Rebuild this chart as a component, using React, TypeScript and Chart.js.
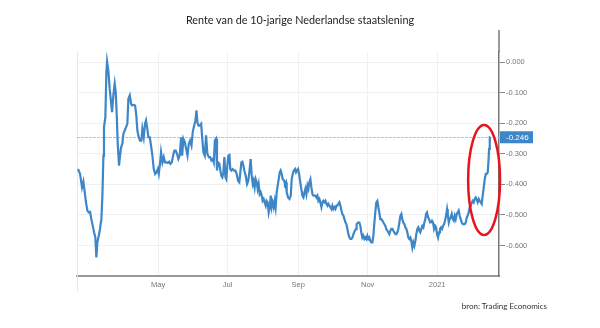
import React, { useEffect, useRef } from "react";
import { Chart, registerables } from "chart.js";

Chart.register(...registerables);

// Days counted from 1 Jan 2020 (day 0)
const days: number[] = [
  50.7, 52.5, 54.2, 55.4, 56.6, 57.7, 58.9, 60.1, 61.3, 62.4, 63.6, 64.8, 65.9, 66.8, 67.7, 68.9, 70.0, 71.2, 72.1, 73.0,
  73.5, 74.7, 75.6, 76.2, 77.3, 78.5, 79.7, 80.6, 81.7, 82.9, 83.8, 84.7, 85.5, 86.7, 87.6, 88.5, 89.6, 90.5, 91.7, 92.9,
  94.0, 94.9, 96.1, 97.3, 98.4, 99.6, 100.8, 101.9, 102.8, 104.0, 105.2, 106.3, 107.2, 108.4, 109.5, 110.4,
  111.3, 112.5, 113.7, 114.8, 116.0, 117.2, 118.4, 119.5, 120.7, 121.6, 122.8, 123.6, 124.8, 126.0, 127.1, 128.3, 129.5,
  130.7, 131.8, 133.0, 134.2, 135.3, 136.5, 137.7, 138.8, 140.0, 141.2, 142.1, 143.2, 144.4, 145.6, 146.8, 147.9, 149.1,
  150.3, 151.4, 152.6, 153.8, 154.7, 155.5, 156.4, 157.6, 158.8, 159.9, 160.8, 162.0, 163.1, 164.3, 165.5, 166.7, 167.8,
  169.0, 169.9, 170.8, 171.9,
  172.7, 173.6, 174.8, 175.7, 176.5, 177.4, 178.3, 179.2, 180.1, 180.9, 181.8, 182.7, 183.6, 184.4, 185.3, 186.5, 187.7,
  188.8, 190.0, 191.2, 192.3, 193.2, 194.1, 195.0, 195.9, 196.7, 197.9, 199.1, 200.2, 201.4, 202.3, 203.2, 204.1, 204.9,
  205.8, 206.7, 207.6, 208.4, 209.3, 210.2, 211.1, 212.0, 212.8, 213.7, 214.6, 215.5, 216.3, 217.2, 218.1, 219.0, 219.9,
  220.7, 221.6, 222.5, 223.4, 224.2, 225.1, 226.0, 226.9, 227.8, 228.6, 229.5, 230.4, 231.6, 232.4, 233.3,
  233.9, 235.1, 236.3, 237.5, 238.3, 239.2, 240.1, 241.3, 242.1, 243.0, 243.9, 244.8, 245.6, 246.5, 247.7, 248.6, 249.5,
  250.3, 251.2, 252.1, 253.0, 253.8, 254.7, 255.6, 256.5, 257.4, 258.2, 259.1, 260.0, 260.9, 261.7, 262.6, 263.5, 264.4,
  265.3, 266.1, 267.0, 267.9, 268.8, 269.7, 270.5, 271.4, 272.3, 273.2, 274.0, 274.9, 275.8, 276.7, 277.6, 278.4, 279.3,
  280.2, 281.1, 281.9, 282.8, 283.7, 284.6, 285.5, 286.3, 287.2, 288.1, 289.0, 289.8, 290.7, 291.6, 292.5, 293.7, 294.8,
  295.3, 296.5, 297.7, 298.6, 299.4, 300.3, 301.2, 302.1, 303.0, 303.8, 304.7, 305.6, 306.5, 307.3, 308.2, 309.1, 310.0,
  310.9, 311.7, 312.6, 313.5, 314.4, 315.2, 316.1, 317.0, 317.9, 318.8, 319.6, 320.5, 321.4, 322.3, 323.1, 324.0, 324.9,
  325.8, 326.7, 327.5, 328.4, 329.3, 330.2, 331.1, 331.9, 332.8, 333.7, 334.6, 335.4, 336.3, 337.2, 338.1, 339.0, 339.8,
  340.7, 341.6, 342.5, 343.3, 344.2, 345.1, 346.0, 346.9, 347.7, 348.6, 349.5, 350.4, 351.2, 352.1, 353.0, 353.9, 354.8,
  355.6,
  356.3, 357.1, 358.0, 358.9, 359.8, 360.6, 361.5, 362.4, 363.3, 364.2, 365.0, 365.9, 366.8, 367.7, 368.5, 369.4, 370.3,
  371.2, 372.1, 372.9, 373.8, 374.7, 375.3, 376.2, 377.0, 377.9, 378.8, 379.7, 380.6, 381.4, 382.3, 383.2, 384.1, 384.9,
  385.8, 386.7, 387.6, 388.5, 389.3, 390.2, 391.1, 392.0, 392.8, 393.7, 394.6, 395.5, 396.4, 397.2, 398.1, 399.0, 399.9,
  400.7, 401.6, 402.5, 403.4, 404.3, 405.1, 406.0, 406.9, 407.8, 408.7, 409.5, 410.4, 411.0, 411.6, 412.2, 412.7,
];

const rates: number[] = [
  -0.350, -0.366, -0.410, -0.391, -0.426, -0.459, -0.486, -0.492, -0.490, -0.514, -0.536, -0.557, -0.574, -0.639, -0.590, -0.568, -0.546, -0.514, -0.437, -0.306,
  -0.213, -0.180, -0.033, 0.002, -0.027, -0.087, -0.131, -0.164, -0.109, -0.071, -0.098, -0.175, -0.262, -0.339, -0.306, -0.279, -0.268, -0.235, -0.224, -0.213,
  -0.202, -0.120, -0.109, -0.137, -0.142, -0.140, -0.142, -0.175, -0.224, -0.246, -0.257, -0.257, -0.219, -0.246, -0.202, -0.191,
  -0.213, -0.246, -0.246, -0.273, -0.306, -0.350, -0.366, -0.361, -0.350, -0.366, -0.328, -0.295, -0.328, -0.311, -0.328, -0.328, -0.330,
  -0.326, -0.333, -0.328, -0.306, -0.290, -0.290, -0.301, -0.317, -0.306, -0.246, -0.306, -0.251, -0.262, -0.284, -0.306, -0.268, -0.257,
  -0.273, -0.230, -0.208, -0.191, -0.158, -0.197, -0.208, -0.208, -0.202, -0.257, -0.295, -0.306, -0.240, -0.301, -0.311, -0.311, -0.322,
  -0.317, -0.328, -0.257, -0.251,
  -0.355, -0.328, -0.333, -0.355, -0.372, -0.377, -0.361, -0.311, -0.377, -0.383, -0.339, -0.306, -0.304, -0.350, -0.355, -0.350, -0.355,
  -0.355, -0.366, -0.388, -0.393, -0.361, -0.328, -0.326, -0.339, -0.355, -0.372, -0.399, -0.388, -0.350, -0.317, -0.372, -0.399, -0.388,
  -0.410, -0.383, -0.393, -0.415, -0.399, -0.432, -0.426, -0.437, -0.454, -0.448, -0.459, -0.470, -0.454, -0.459, -0.492, -0.475, -0.437,
  -0.475, -0.459, -0.475, -0.454, -0.475, -0.426, -0.404, -0.383, -0.361, -0.355, -0.366, -0.383, -0.388, -0.399, -0.393,
  -0.426, -0.443, -0.448, -0.437, -0.383, -0.366, -0.355, -0.350, -0.361, -0.355, -0.350, -0.366, -0.388, -0.410, -0.437, -0.443, -0.426,
  -0.415, -0.432, -0.404, -0.415, -0.393, -0.383, -0.410, -0.432, -0.437, -0.437, -0.437, -0.443, -0.437, -0.454, -0.448, -0.459, -0.475,
  -0.459, -0.454, -0.459, -0.454, -0.464, -0.470, -0.464, -0.470, -0.475, -0.481, -0.470, -0.481, -0.475, -0.481, -0.470, -0.470, -0.464,
  -0.459, -0.470, -0.486, -0.497, -0.503, -0.514, -0.525, -0.530, -0.546, -0.563, -0.574, -0.579, -0.579, -0.574, -0.563, -0.552, -0.546,
  -0.530, -0.525, -0.525, -0.536, -0.557, -0.574, -0.568, -0.579, -0.574, -0.579, -0.568, -0.579, -0.574, -0.585, -0.590, -0.590, -0.568,
  -0.525, -0.492, -0.459, -0.454, -0.475, -0.492, -0.514, -0.514, -0.519, -0.525, -0.530, -0.536, -0.546, -0.552, -0.557, -0.563, -0.552,
  -0.546, -0.546, -0.552, -0.557, -0.563, -0.563, -0.557, -0.546, -0.525, -0.503, -0.497, -0.514, -0.525, -0.530, -0.541, -0.546, -0.557,
  -0.574, -0.579, -0.574, -0.585, -0.607, -0.590, -0.601, -0.585, -0.563, -0.546, -0.541, -0.552, -0.557, -0.546, -0.536, -0.541, -0.525,
  -0.514,
  -0.497, -0.492, -0.508, -0.514, -0.525, -0.525, -0.519, -0.525, -0.546, -0.536, -0.541, -0.563, -0.574, -0.557, -0.546, -0.541, -0.546,
  -0.536, -0.530, -0.519, -0.503, -0.481, -0.497, -0.525, -0.514, -0.508, -0.497, -0.514, -0.519, -0.503, -0.514, -0.497, -0.492, -0.486,
  -0.503, -0.514, -0.525, -0.530, -0.530, -0.530, -0.525, -0.508, -0.503, -0.492, -0.475, -0.470, -0.459, -0.454, -0.459, -0.448, -0.443,
  -0.450, -0.459, -0.448, -0.454, -0.459, -0.464, -0.437, -0.410, -0.383, -0.366, -0.366, -0.361, -0.328, -0.284, -0.246, -0.246,
];

const xTickDays: number[] = [121, 182, 244, 305, 366];
const xTickLabels: string[] = ["May", "Jul", "Sep", "Nov", "2021"];
const yTickValues: number[] = [0, -0.1, -0.2, -0.3, -0.4, -0.5, -0.6];
const xRange: number[] = [49.8, 420.3];
const yRange: number[] = [-0.7, 0.033];
// highlighted region (red ellipse), in data units: [centre day, centre rate, day radius, rate radius]
const highlight: number[] = [407.2, -0.386, 14, 0.18];

const titleText = "Rente van de 10-jarige Nederlandse staatslening";
const sourceText = "bron: Trading Economics";

const LINE_BLUE = "#3d86c8";

const overlayPlugin = {
  id: "overlay",
  beforeDatasetsDraw(chart: any) {
    const { ctx, chartArea, scales } = chart;
    const { left, right, top, bottom } = chartArea;
    const last = rates[rates.length - 1];
    const py = Math.round(scales.y.getPixelForValue(last)) + 0.5;
    ctx.save();
    ctx.strokeStyle = "#e4e8ee";
    ctx.lineWidth = 1;
    ctx.beginPath();
    ctx.moveTo(left + 0.5, top);
    ctx.lineTo(left + 0.5, bottom + 15);
    ctx.stroke();
    ctx.setLineDash([3, 1]);
    ctx.strokeStyle = "#a6c9ec";
    ctx.beginPath();
    ctx.moveTo(left, py);
    ctx.lineTo(right, py);
    ctx.stroke();
    ctx.restore();
  },
  afterDraw(chart: any) {
    const { ctx, chartArea, scales } = chart;
    const { right, top } = chartArea;
    const x = scales.x;
    const y = scales.y;
    ctx.save();
    ctx.strokeStyle = "#777";
    ctx.lineWidth = 1.5;
    ctx.beginPath();
    ctx.moveTo(right, top - 22);
    ctx.lineTo(right, top);
    ctx.stroke();

    const last = rates[rates.length - 1];
    const py = y.getPixelForValue(last);
    ctx.fillStyle = LINE_BLUE;
    ctx.fillRect(right + 1, py - 6, 33, 12);
    ctx.fillStyle = "#fff";
    ctx.font = "8px 'Liberation Sans', Arial, sans-serif";
    ctx.textBaseline = "middle";
    ctx.textAlign = "left";
    ctx.fillText(last.toFixed(3), right + 7, py + 0.5);

    const [cd, cr, rd, rr] = highlight;
    const cx = x.getPixelForValue(cd);
    const cy = y.getPixelForValue(cr);
    const rx = Math.abs(x.getPixelForValue(cd + rd) - cx);
    const ry = Math.abs(y.getPixelForValue(cr + rr) - cy);
    ctx.strokeStyle = "#e8141c";
    ctx.lineWidth = 2.5;
    ctx.beginPath();
    ctx.ellipse(cx, cy, rx, ry, 0, 0, Math.PI * 2);
    ctx.stroke();
    ctx.restore();
  },
};

export default function App() {
  const canvasRef = useRef<HTMLCanvasElement | null>(null);

  useEffect(() => {
    if (!canvasRef.current) return;
    const points = days.map((d, i) => ({ x: d, y: rates[i] }));
    const chart = new Chart(canvasRef.current, {
      type: "line",
      data: {
        datasets: [
          {
            data: points,
            borderColor: LINE_BLUE,
            borderWidth: 2.2,
            pointRadius: 0,
            tension: 0,
            fill: false,
          },
        ],
      },
      options: {
        responsive: true,
        maintainAspectRatio: false,
        animation: false,
        layout: { padding: { left: 77, right: 0, top: 52, bottom: 0 } },
        plugins: {
          legend: { display: false },
          tooltip: { enabled: false },
          title: { display: false },
        },
        scales: {
          x: {
            type: "linear",
            min: xRange[0],
            max: xRange[1],
            afterBuildTicks: (scale: any) => {
              scale.ticks = xTickDays.map((v) => ({ value: v }));
            },
            afterFit: (scale: any) => {
              scale.height = 52;
            },
            grid: { color: "#eef0f4", drawTicks: false, lineWidth: 1 },
            border: { color: "#999", width: 2 },
            ticks: {
              autoSkip: false,
              maxRotation: 0,
              padding: 4,
              color: "#777",
              font: { family: "'Liberation Sans', Arial, sans-serif", size: 7.5 },
              callback: (v: any) => {
                const idx = xTickDays.indexOf(Number(v));
                return idx >= 0 ? xTickLabels[idx] : "";
              },
            },
          },
          y: {
            type: "linear",
            position: "right",
            min: yRange[0],
            max: yRange[1],
            afterBuildTicks: (scale: any) => {
              scale.ticks = yTickValues.map((v) => ({ value: v }));
            },
            afterFit: (scale: any) => {
              scale.width = 101;
            },
            grid: { color: "#eef0f4", drawTicks: true, tickLength: 6, tickColor: "#888", lineWidth: 1 },
            border: { color: "#777", width: 1.5 },
            ticks: {
              padding: 1,
              color: "#777",
              font: { family: "'Liberation Sans', Arial, sans-serif", size: 7.5 },
              callback: (v: any) => Number(v).toFixed(3),
            },
          },
        },
      },
      plugins: [overlayPlugin],
    });
    return () => chart.destroy();
  }, []);

  return (
    <div style={{ position: "fixed", left: 0, top: 0, width: 600, height: 328, background: "#fff" }}>
      <canvas ref={canvasRef} />
      <div
        style={{
          position: "absolute",
          left: 0,
          width: 600,
          top: 12,
          textAlign: "center",
          fontFamily: "Lato, 'Open Sans', sans-serif",
          fontSize: 10.8,
          lineHeight: "16px",
          color: "#222",
          whiteSpace: "nowrap",
        }}
      >
        {titleText}
      </div>
      <div
        style={{
          position: "absolute",
          right: 53,
          top: 301,
          fontFamily: "Lato, 'Open Sans', sans-serif",
          fontSize: 8,
          color: "#333",
          whiteSpace: "nowrap",
        }}
      >
        {sourceText}
      </div>
    </div>
  );
}
